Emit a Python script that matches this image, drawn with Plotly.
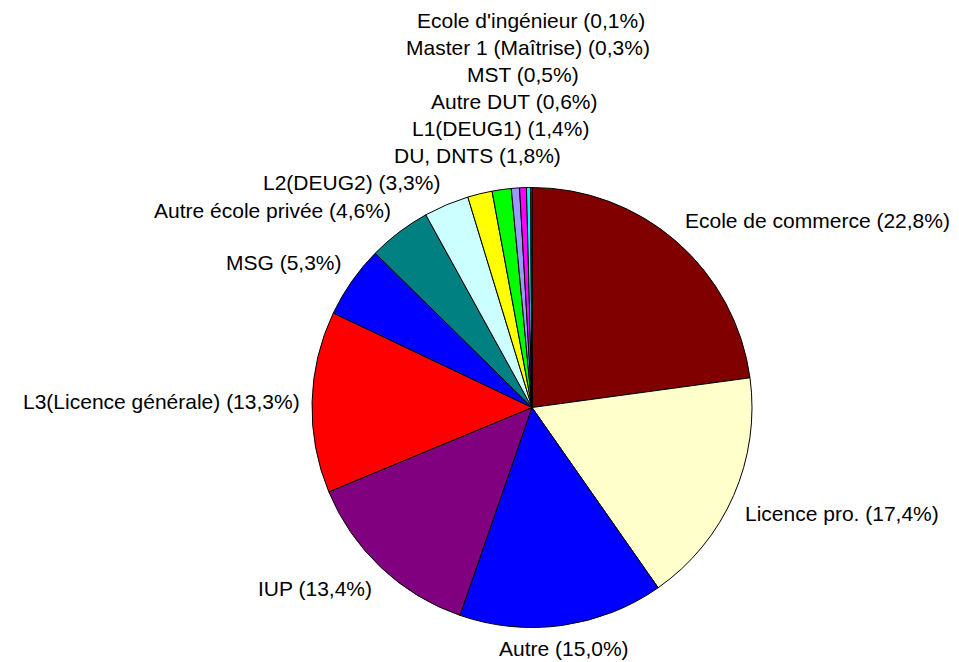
import math
import plotly.graph_objects as go

# data, clockwise from 12 o'clock
labels = [
    "Ecole de commerce", "Licence pro.", "Autre", "IUP",
    "L3(Licence générale)", "MSG", "Autre école privée", "L2(DEUG2)",
    "DU, DNTS", "L1(DEUG1)", "Autre DUT", "MST",
    "Master 1 (Maîtrise)", "Ecole d'ingénieur",
]
values = [22.8, 17.4, 15.0, 13.4, 13.3, 5.3, 4.6, 3.3, 1.8, 1.4, 0.6, 0.5, 0.3, 0.1]
colors = [
    "#800000", "#FFFFCC", "#0000FF", "#800080",
    "#FF0000", "#0000FF", "#008080", "#CCFFFF",
    "#FFFF00", "#00FF00", "#9999FF", "#FF00FF",
    "#00FFFF", "#008080",
]

W, H = 959, 662
CX, CY, R = 524, 399.5, 220   # pie centre / radius in figure pixels (page has an 8px body margin)
FONT = 21
LINE_H = 27
GAP = 10


def label_text(name, v):
    return f"{name} ({v:.1f}%)".replace(f"({v:.1f}%)", "(" + f"{v:.1f}".replace(".", ",") + "%)")


texts = [label_text(n, v) for n, v in zip(labels, values)]

# place labels around the pie, excel style (outside end, stacked when crowded)
total = sum(values)
items = []
cum = 0.0
for i, v in enumerate(values):
    mid = (cum + v / 2) / total * 2 * math.pi
    cum += v
    s, c = math.sin(mid), math.cos(mid)
    ax = CX + (R + GAP) * s
    ay = CY - (R + GAP) * c
    xa = "left" if s > 0.3 else ("right" if s < -0.3 else "center")
    ya = "bottom" if c > 0.3 else ("top" if c < -0.3 else "middle")
    w = len(texts[i]) * 0.52 * FONT
    items.append(dict(i=i, ax=ax, ay=ay, xa=xa, ya=ya, w=w, s=s, c=c))


def box(it):
    if it["xa"] == "left":
        x0 = it["ax"]
    elif it["xa"] == "right":
        x0 = it["ax"] - it["w"]
    else:
        x0 = it["ax"] - it["w"] / 2
    if it["ya"] == "bottom":
        y0 = it["ay"] - LINE_H
    elif it["ya"] == "top":
        y0 = it["ay"]
    else:
        y0 = it["ay"] - LINE_H / 2
    return x0, y0, x0 + it["w"], y0 + LINE_H


# upper-left labels, from the side towards the top, pushed upwards on overlap
upper = [it for it in items if it["c"] > 0 and it["s"] <= 0.3]
upper.sort(key=lambda it: it["i"])
placed = []
for it in upper:
    moved = True
    while moved:
        moved = False
        x0, y0, x1, y1 = box(it)
        for p in placed:
            px0, py0, px1, py1 = box(p)
            if x0 < px1 and x1 > px0 and y0 < py1 and y1 > py0:
                it["ay"] -= y1 - py0
                moved = True
                break
    placed.append(it)

annotations = []
for it in items:
    annotations.append(dict(
        x=it["ax"] / W, y=1 - it["ay"] / H,
        xref="paper", yref="paper",
        xanchor=it["xa"], yanchor=it["ya"],
        text=texts[it["i"]], showarrow=False,
        font=dict(family="Liberation Sans, Arial", size=FONT, color="black"),
    ))

fig = go.Figure(go.Pie(
    labels=labels,
    values=values,
    sort=False,
    direction="clockwise",
    rotation=0,
    textinfo="none",
    hoverinfo="label+percent",
    marker=dict(colors=colors, line=dict(color="black", width=1)),
    domain=dict(x=[(CX - R) / W, (CX + R) / W], y=[(H - CY - R) / H, (H - CY + R) / H]),
))

fig.update_layout(
    width=W,
    height=H,
    margin=dict(l=0, r=0, t=0, b=0),
    paper_bgcolor="white",
    plot_bgcolor="white",
    showlegend=False,
    annotations=annotations,
)

fig.write_html("out.html")
